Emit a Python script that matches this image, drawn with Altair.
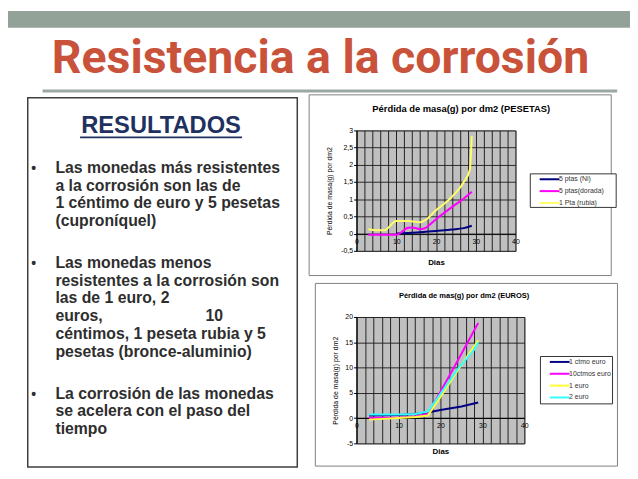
import altair as alt
import pandas as pd

FONT = "Liberation Sans"

# ---------------- slide text ----------------
slide_title = "Resistencia a la corrosión"
panel_heading = "RESULTADOS"
bullet_paragraphs = [
    ["Las monedas más resistentes", "a la corrosión son las de",
     "1 céntimo de euro y 5 pesetas", "(cuproníquel)"],
    ["Las monedas menos", "resistentes a la corrosión son", "las de 1 euro, 2",
     "euros,", "céntimos, 1 peseta rubia y 5", "pesetas (bronce-aluminio)"],
    ["La corrosión de las monedas", "se acelera con el paso del", "tiempo"],
]
justified_line = "euros,"
justified_tail = "10"

# ---------------- chart 1: PESETAS ----------------
pes_title = "Pérdida de masa(g) por dm2 (PESETAS)"
pes_series = ["5 ptas (Ni)", "5 ptas(dorada)", "1 Pta (rubia)"]
pes_colors = ["#000080", "#FF00FF", "#FFFF66"]
ni_days = [10, 13, 16, 17, 20, 24, 27, 29]
ni_loss = [0.0, 0.02, 0.04, 0.05, 0.08, 0.12, 0.16, 0.23]
dorada_days = [3, 7, 10, 13, 14, 16, 17, 20, 24, 27, 29]
dorada_loss = [-0.03, -0.03, -0.03, 0.17, 0.18, 0.13, 0.15, 0.42, 0.77, 1.02, 1.22]
rubia_days = [3, 5, 7, 10, 13, 16, 17, 20, 24, 27, 28.5, 29]
rubia_loss = [0.13, 0.1, 0.1, 0.37, 0.37, 0.33, 0.37, 0.68, 1.07, 1.5, 1.85, 2.83]
pes_yticks = [-0.5, 0, 0.5, 1, 1.5, 2, 2.5, 3]

# ---------------- chart 2: EUROS ----------------
eur_title = "Pérdida de mas(g) por dm2 (EUROS)"
eur_series = ["1 ctmo euro", "10ctmos euro", "1 euro", "2 euro"]
eur_colors = ["#000080", "#FF00FF", "#FFFF33", "#33FFFF"]
ctmo_days = [3, 10, 14, 17, 20, 25, 29]
ctmo_loss = [0.5, 0.6, 0.8, 1.1, 1.6, 2.3, 3.1]
ctmos10_days = [3, 10, 14, 17, 20, 24, 29]
ctmos10_loss = [0.0, 0.1, 0.3, 0.8, 5.2, 11.2, 18.8]
euro1_days = [3, 10, 14, 17, 20, 24, 29]
euro1_loss = [-0.3, 0.0, 0.2, 0.5, 4.2, 9.3, 15.4]
euro2_days = [3, 10, 14, 17, 20, 24, 28, 29]
euro2_loss = [0.7, 0.7, 0.8, 1.3, 4.8, 9.6, 13.5, 15.0]
eur_yticks = [-5, 0, 5, 10, 15, 20]

x_title = "Dias"
y_title = "Pérdida de masa(g) por dm2"
x_grid_values = list(range(0, 41, 2))


def series_frame(days_list, loss_list, names):
    return pd.concat(
        [pd.DataFrame({"Dias": d, "loss": v, "serie": n})
         for d, v, n in zip(days_list, loss_list, names)],
        ignore_index=True,
    )


pes_df = series_frame([ni_days, dorada_days, rubia_days],
                      [ni_loss, dorada_loss, rubia_loss], pes_series)
eur_df = series_frame([ctmo_days, ctmos10_days, euro1_days, euro2_days],
                      [ctmo_loss, ctmos10_loss, euro1_loss, euro2_loss], eur_series)

# ---------------- header ----------------
header_df = pd.DataFrame({"t": [slide_title]})
bar = alt.Chart(header_df).mark_rect(color="#93A299").encode(
    x=alt.value(0), x2=alt.value(630), y=alt.value(0), y2=alt.value(17))
big_title = alt.Chart(header_df).mark_text(
    font="Roboto", fontSize=47, fontWeight="bold", color="#C9533A",
    align="center", baseline="alphabetic").encode(
    text="t:N", x=alt.value(316.5), y=alt.value(62.7))
sep = alt.Chart(header_df).mark_rule(color="#9BA7A2", strokeWidth=3).encode(
    x=alt.value(35), x2=alt.value(617), y=alt.value(81))
header = alt.layer(bar, big_title, sep).properties(width=622, height=84)

# ---------------- left text panel ----------------
# the panel's origin lines up with the top of the first chart's plot area
SH = 36
rows = []
for p, para in enumerate(bullet_paragraphs):
    for j, line in enumerate(para):
        rows.append({"line": line, "slot": len(rows) + 1.35 * p, "first": j == 0})
lines_df = pd.DataFrame(rows)
tail_df = pd.DataFrame({"line": [justified_tail],
                        "slot": [lines_df.loc[lines_df.line == justified_line, "slot"].iloc[0]]})
slot_scale = alt.Scale(domain=[0, 20], range=[79 - SH, 439 - SH])

panel_box = alt.Chart(header_df).mark_rect(
    fillOpacity=0, stroke="#3F3F3F", strokeWidth=1.5).encode(
    x=alt.value(20), x2=alt.value(293), y=alt.value(3 - SH), y2=alt.value(377 - SH))
heading = alt.Chart(pd.DataFrame({"t": [panel_heading]})).mark_text(
    font=FONT, fontSize=24, fontWeight="bold", color="#1F3160",
    align="center", baseline="alphabetic").encode(
    text="t:N", x=alt.value(155), y=alt.value(38.7 - SH))
underline = alt.Chart(header_df).mark_rule(color="#1F3160", strokeWidth=1.8).encode(
    x=alt.value(73), x2=alt.value(237), y=alt.value(43 - SH))
body_text = alt.Chart(lines_df).mark_text(
    font=FONT, fontSize=16, fontWeight="bold", color="#2E2E2E",
    align="left", baseline="alphabetic").encode(
    text="line:N", x=alt.value(48),
    y=alt.Y("slot:Q", scale=slot_scale, axis=None))
bullets = alt.Chart(lines_df).transform_filter("datum.first").mark_text(
    font=FONT, fontSize=14, fontWeight="bold", color="#2E2E2E",
    align="center", baseline="alphabetic").encode(
    text=alt.value("•"), x=alt.value(26),
    y=alt.Y("slot:Q", scale=slot_scale, axis=None))
tail = alt.Chart(tail_df).mark_text(
    font=FONT, fontSize=16, fontWeight="bold", color="#2E2E2E",
    align="left", baseline="alphabetic").encode(
    text="line:N", x=alt.value(200),
    y=alt.Y("slot:Q", scale=slot_scale, axis=None))
left = alt.layer(panel_box, heading, underline, bullets, body_text, tail).properties(
    width=293, height=377 - SH)

YLABEL = "replace(replace(format(datum.value, '~g'), '.', ','), '\u2212', '-')"


# ---------------- line charts ----------------
def line_chart(df, title, title_size, names, colors, ticks, w, h, zero_off,
               box, title_xy, leg_box, leg_xy, ytitle_pad, xtitle_pad, interp, widths):
    tdf = pd.DataFrame({"t": [title]})
    frame = alt.Chart(tdf).mark_rect(fillOpacity=0, stroke="#808080", strokeWidth=1).encode(
        x=alt.value(box[0]), x2=alt.value(box[1]), y=alt.value(box[2]), y2=alt.value(box[3]))
    ttl = alt.Chart(tdf).mark_text(font=FONT, fontSize=title_size, fontWeight="bold",
                                   color="black", align="center", baseline="alphabetic").encode(
        text="t:N", x=alt.value(title_xy[0]), y=alt.value(title_xy[1]))
    legframe = alt.Chart(tdf).mark_rect(fill="white", stroke="black", strokeWidth=0.8).encode(
        x=alt.value(leg_box[0]), x2=alt.value(leg_box[1]),
        y=alt.value(leg_box[2]), y2=alt.value(leg_box[3]))
    lines = alt.Chart(df).mark_line(interpolate=interp).encode(
        x=alt.X("Dias:Q", scale=alt.Scale(domain=[0, 40], nice=False),
                axis=alt.Axis(values=x_grid_values,
                              labelExpr="datum.value % 10 === 0 ? datum.label : ''",
                              grid=True, gridColor="#222222", gridWidth=1,
                              ticks=False, domainColor="black", offset=zero_off,
                              labelFontSize=7, labelColor="black", labelPadding=4,
                              labelFlush=False, labelOverlap=False,
                              title=x_title, titleFontSize=8, titleFontWeight="bold",
                              titleColor="black", titlePadding=xtitle_pad)),
        y=alt.Y("loss:Q", scale=alt.Scale(domain=[ticks[0], ticks[-1]], nice=False, zero=False),
                axis=alt.Axis(values=ticks, labelExpr=YLABEL,
                              grid=True, gridColor="#1A1A1A", gridWidth=0.9,
                              tickSize=3, tickColor="black", domainColor="black",
                              labelFontSize=7, labelColor="black", labelPadding=1,
                              title=y_title, titleFontSize=7, titleFontWeight="normal",
                              titleColor="black", titlePadding=ytitle_pad)),
        color=alt.Color("serie:N", scale=alt.Scale(domain=names, range=colors), title=None,
                        legend=alt.Legend(orient="none", legendX=leg_xy[0], legendY=leg_xy[1],
                                          symbolType="M2,0H12", symbolSize=16,
                                          symbolStrokeWidth=2, labelOffset=20,
                                          labelFontSize=7, labelFont=FONT,
                                          labelColor="#333333", padding=2, rowPadding=3)),
        strokeWidth=alt.StrokeWidth("serie:N", scale=alt.Scale(domain=names, range=widths),
                                    legend=None),
    )
    return alt.layer(frame, legframe, ttl, lines).properties(
        width=w, height=h,
        view=alt.ViewBackground(fill="#C0C0C0", stroke="#808080"))


c1 = line_chart(pes_df, pes_title, 9.5, pes_series, pes_colors, pes_yticks, 161, 122, -17.4,
                (-48, 258, -36, 147), (106, -19), (176, 263, 44, 78), (176, 44),
                8, 14, "monotone", [2, 2, 3])
c2 = line_chart(eur_df, eur_title, 7.6, eur_series, eur_colors, eur_yticks, 170, 128, -25.7,
                (-41.7, 264.3, -34, 151), (109, -19), (186.3, 259.3, 40, 88), (186.3, 40),
                6, 19, "linear", [2, 2, 2, 2])

right = alt.vconcat(c1, c2, spacing=6).resolve_scale(color="independent",
                                                      strokeWidth="independent")
body = alt.hconcat(left, right, spacing=10)

chart = alt.vconcat(header, body, spacing=0).properties(
    padding=0, background="white"
).configure(font=FONT).configure_view(stroke=None)

chart.save("out.html", embed_options={"renderer": "svg", "actions": False})
